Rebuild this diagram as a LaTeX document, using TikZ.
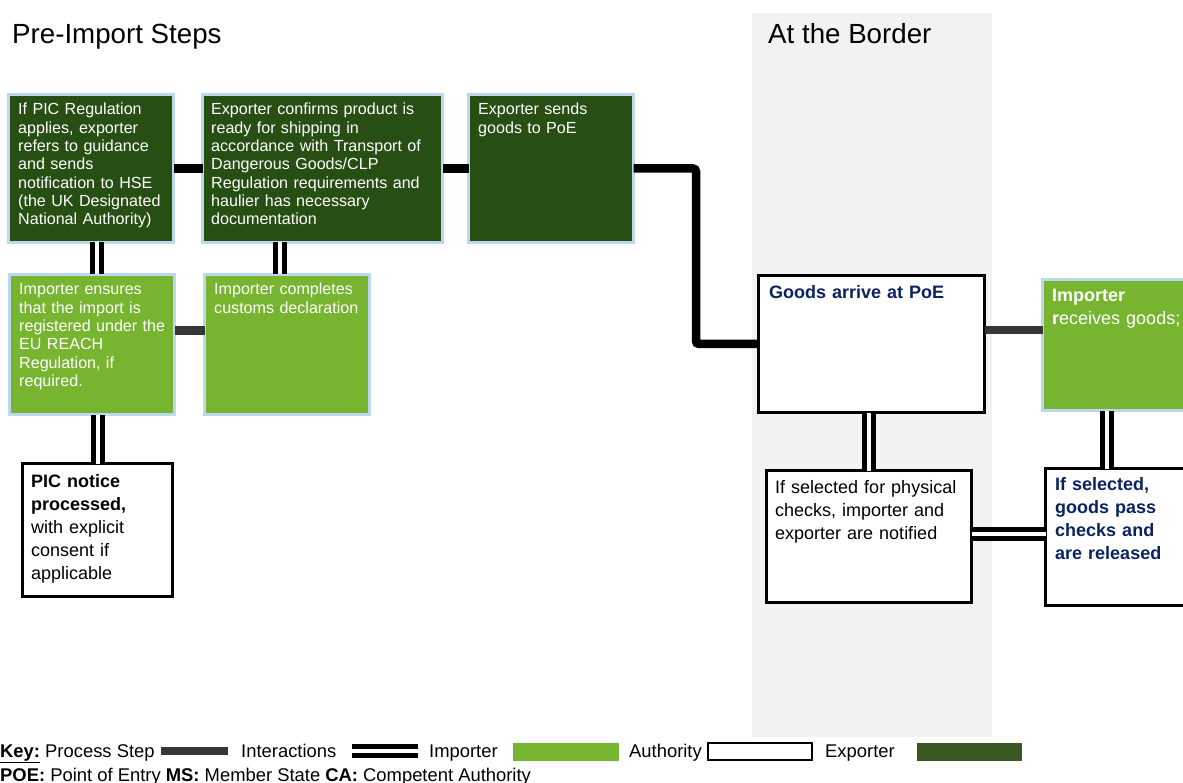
\documentclass[tikz,border=0pt]{standalone}
\usepackage{fontspec}
\setmainfont{Liberation Sans}
\usetikzlibrary{calc}
\definecolor{expg}{HTML}{274E13}
\definecolor{impg}{HTML}{77B530}
\definecolor{lblue}{HTML}{BDD7EE}
\definecolor{navy}{HTML}{0B2361}
\definecolor{bandgrey}{HTML}{F2F2F2}
\definecolor{pgrey}{HTML}{363636}
\definecolor{keyexp}{HTML}{385723}
\tikzset{
  box/.style={anchor=north west, inner sep=0pt, outer sep=0pt, line width=3pt},
  expbox/.style={box, draw=lblue, fill=expg},
  impbox/.style={box, draw=lblue, fill=impg},
  authbox/.style={box, draw=black, fill=white},
  txt/.style={anchor=base west, inner sep=0pt, align=left, text width=400pt},
  smalltxt/.style={txt, font=\fontsize{16.1}{18.3}\selectfont, text=white},
  bigtxt/.style={txt, font=\fontsize{18}{23}\selectfont},
  procline/.style={line width=8.5pt, draw=black},
  procgrey/.style={line width=8.5pt, draw=pgrey},
  interline/.style={draw=black, line width=5pt, double=white, double distance=4pt},
  keytxt/.style={anchor=base west, inner sep=0pt, font=\fontsize{18.4}{22}\selectfont},
  titletxt/.style={anchor=base west, inner sep=0pt, font=\fontsize{27.7}{32}\selectfont},
}
\begin{document}
\begin{tikzpicture}[x=1pt, y=-1pt]
\clip (0,0) rectangle (1183,783);
\fill[white] (0,0) rectangle (1183,783);
% band
\fill[bandgrey] (752,13) rectangle (992,737);
% titles
\node[titletxt] (t1) at (12,44) {Pre-Import Steps};
\node[titletxt] (t2) at (768,44) {At the Border};

% boxes
\node[expbox, minimum width=165pt, minimum height=148pt] (e1) at (8.5,94.5) {};
\node[expbox, minimum width=240pt, minimum height=148pt] (e2) at (202.5,94.5) {};
\node[expbox, minimum width=165pt, minimum height=148pt] (e3) at (468.5,94.5) {};
\node[impbox, minimum width=165pt, minimum height=140pt] (i1) at (9.5,274.5) {};
\node[impbox, minimum width=165pt, minimum height=140pt] (i2) at (204.5,274.5) {};
\node[authbox, minimum width=150pt, minimum height=133pt] (p) at (22.5,463.5) {};
\node[authbox, minimum width=226pt, minimum height=137pt] (g) at (758.5,275.5) {};
\node[impbox, minimum width=160pt, minimum height=131pt] (r) at (1042.5,279.5) {};
\node[authbox, minimum width=205pt, minimum height=132pt] (c) at (766.5,470.5) {};
\node[authbox, minimum width=160pt, minimum height=137pt] (s) at (1045.5,468.5) {};

% process connectors
\draw[procline] (e1.east) -- (e2.west);
\draw[procline] (e2.east) -- (e3.west);
\draw[procgrey] ([yshift=14pt]i1.east) -- ([yshift=14pt]i1.east -| i2.west);
\draw[procgrey] ([yshift=14pt]g.east) -- ([yshift=14pt]g.east -| r.west);
\draw[procline, rounded corners=3pt] (e3.east) -| ($(e3.east)!0.5!(g.west)$) |- (g.west);

% interactions
\draw[interline] ([xshift=6pt]e1.south) -- ([xshift=6pt]e1.south |- i1.north);
\draw[interline] ([xshift=-7pt]i2.north) -- ([xshift=-7pt]i2.north |- e2.south);
\draw[interline] (p.north) -- (p.north |- i1.south);
\draw[interline] (c.north) -- (c.north |- g.south);
\draw[interline] ([xshift=-15.5pt]r.south) -- ([xshift=-15.5pt]r.south |- s.north);
\draw[interline] ([yshift=3pt]c.east) -- ([yshift=3pt]c.east -| s.west);

% texts
\node[smalltxt] (e1t) at (18,115) {If PIC Regulation\\applies, exporter\\refers to guidance\\and sends\\notification to HSE\\(the UK Designated\\National Authority)};
\node[smalltxt] (e2t) at (211,115) {Exporter confirms product is\\ready for shipping in\\accordance with Transport of\\Dangerous Goods/CLP\\Regulation requirements and\\haulier has necessary\\documentation};
\node[smalltxt] (e3t) at (478,115) {Exporter sends\\goods to PoE};
\node[smalltxt] (i1t) at (19,295) {Importer ensures\\that the import is\\registered under the\\EU REACH\\Regulation, if\\required.};
\node[smalltxt] (i2t) at (214,295) {Importer completes\\customs declaration};
\node[bigtxt] (pt) at (31,487.5) {\textbf{PIC notice}\\\textbf{processed,}\\with explicit\\consent if\\applicable};
\node[bigtxt, text=navy] (gt) at (769,298.5) {\textbf{Goods arrive at PoE}};
\node[bigtxt, text=white] (rt) at (1052,301.5) {\textbf{Importer}\\\textbf{r}eceives goods;};
\node[bigtxt] (ct) at (775,493.5) {If selected for physical\\checks, importer and\\exporter are notified};
\node[bigtxt, text=navy] (st) at (1055,490.5) {\textbf{If selected,}\\\textbf{goods pass}\\\textbf{checks and}\\\textbf{are released}};

% key
\node[keytxt] (k1) at (0,757) {\textbf{\underline{Key:}}};
\node[keytxt] (k2) at (45,757) {Process Step};
\fill[pgrey] (161,747) rectangle (228,755);
\node[keytxt] (k3) at (241,757) {Interactions};
\draw[interline] (352,750.5) -- (418,750.5);
\node[keytxt] (k4) at (429,757) {Importer};
\fill[impg] (513,743) rectangle (619,761);
\node[keytxt] (k5) at (629,757) {Authority};
\draw[line width=2.5pt, fill=white] (708,743) rectangle (812,760);
\node[keytxt] (k6) at (825,757) {Exporter};
\fill[keyexp] (917,743) rectangle (1022,761);
\node[keytxt] (k7) at (0,781) {\textbf{POE:} Point of Entry \textbf{MS:} Member State \textbf{CA:} Competent Authority};
\end{tikzpicture}
\end{document}
